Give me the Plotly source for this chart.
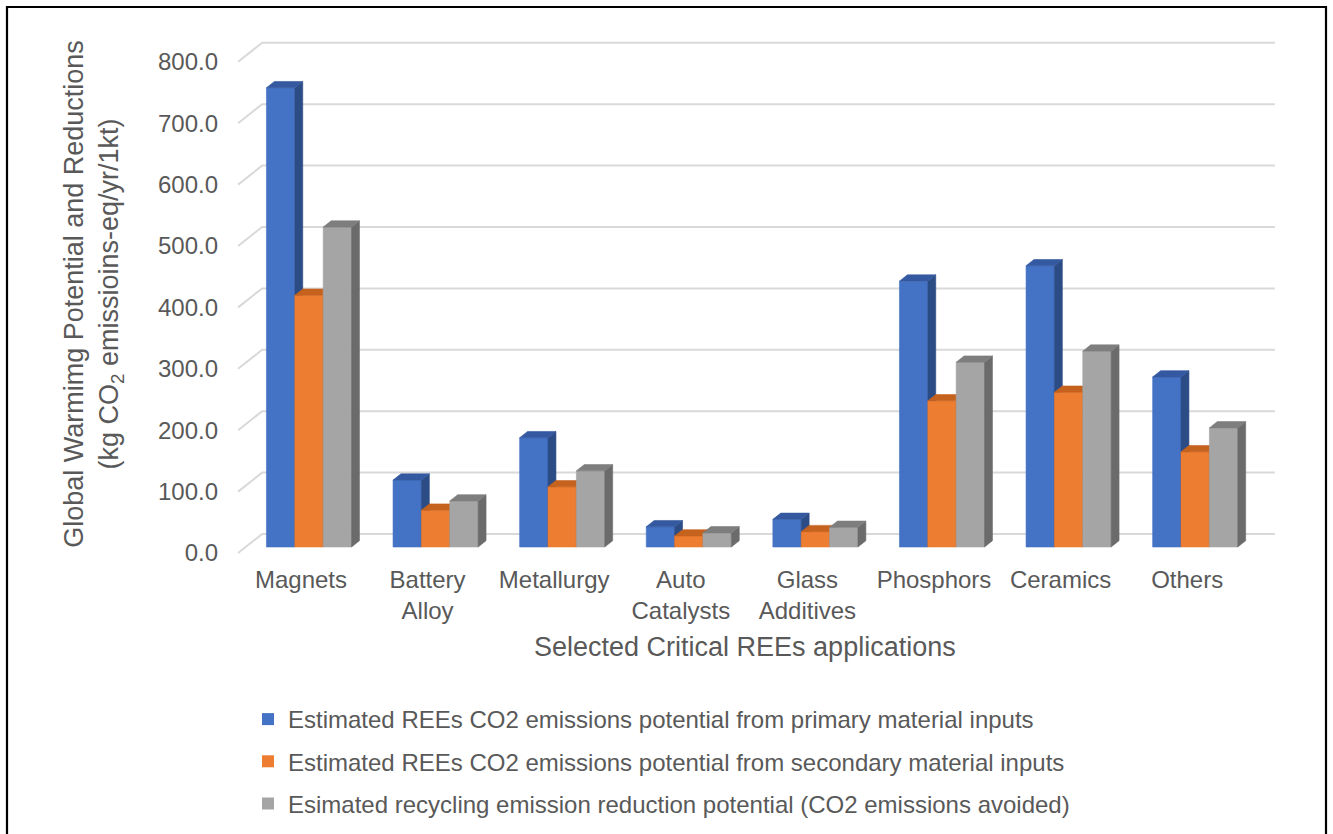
import plotly.graph_objects as go

# ---- data -------------------------------------------------------------
categories = ["Magnets", "Battery<br>Alloy", "Metallurgy", "Auto<br>Catalysts",
              "Glass<br>Additives", "Phosphors", "Ceramics", "Others"]
primary_inputs = [748, 109, 178, 33, 45, 433, 458, 277]
secondary_inputs = [410, 60, 98, 18, 25, 238, 252, 155]
emissions_avoided = [521, 75, 124, 23, 32, 301, 319, 194]
series_names = [
    "Estimated REEs CO2 emissions potential from primary material inputs",
    "Estimated REEs CO2 emissions potential from secondary material inputs",
    "Esimated recycling emission reduction potential (CO2 emissions avoided)",
]
y_ticks = [0, 100, 200, 300, 400, 500, 600, 700, 800]

# ---- styling ------------------------------------------------------------
FONT = "Liberation Sans, Arial, sans-serif"
TEXT = "#595959"
GRID = "#d9d9d9"
front_colors = ["#4472C4", "#ED7D31", "#A5A5A5"]
side_colors = ["#2C4C86", "#B3581B", "#6B6B6B"]
top_colors = ["#3459A0", "#C5621E", "#7E7E7E"]

# ---- page / projection geometry (pixels) --------------------------------
W, H = 1333, 834
PLOT_L, PLOT_R, PLOT_T, PLOT_B = 225, 1290, 30, 558
X_ORIGIN_PX, X_UNIT_PX = 309.0, 126.6     # first category centre, category pitch
Y_ZERO_PX, Y_UNIT_PX = 547.0, 0.614       # baseline of bar fronts, px per unit
DEPTH_DX_PX, DEPTH_DY_PX = 24.0, 19.0     # oblique offset of the back wall
D_FRONT, D_BAR = 0.316, 0.33              # bar front depth and bar thickness
D_BACK = D_FRONT + D_BAR
BAR_W = 0.224

DX = DEPTH_DX_PX / X_UNIT_PX
DY = DEPTH_DY_PX / Y_UNIT_PX
x_range = [(PLOT_L - X_ORIGIN_PX) / X_UNIT_PX, (PLOT_R - X_ORIGIN_PX) / X_UNIT_PX]
y_range = [(Y_ZERO_PX - PLOT_B) / Y_UNIT_PX, (Y_ZERO_PX - PLOT_T) / Y_UNIT_PX]
n_cat = len(categories)


def proj(xw, v, d):
    """Oblique projection of a point (x, value, depth) into axis coordinates."""
    return xw + (d - D_FRONT) * DX, v + (d - D_FRONT) * DY


def polys_to_xy(polys):
    xs, ys = [], []
    for poly in polys:
        for px, py in poly + [poly[0]]:
            xs.append(px)
            ys.append(py)
        xs.append(None)
        ys.append(None)
    return xs, ys


fig = go.Figure()

# ---- walls: side-wall diagonals + back-wall gridlines -------------------
gx, gy = [], []
x_left, x_right = -0.5, n_cat - 0.5
for t in y_ticks:
    for pt in (proj(x_left, t, 0.0), proj(x_left, t, 1.0), proj(x_right, t, 1.0)):
        gx.append(pt[0])
        gy.append(pt[1])
    gx.append(None)
    gy.append(None)
fig.add_trace(go.Scatter(x=gx, y=gy, mode="lines", line=dict(color=GRID, width=2),
                         hoverinfo="skip", showlegend=False))

# ---- 3D columns ----------------------------------------------------------
all_series = [primary_inputs, secondary_inputs, emissions_avoided]
offsets = [-BAR_W, 0.0, BAR_W]
for s, values in enumerate(all_series):
    fronts, sides, tops = [], [], []
    for i, v in enumerate(values):
        c = i + offsets[s]
        l, r = c - BAR_W / 2, c + BAR_W / 2
        fronts.append([proj(l, 0, D_FRONT), proj(r, 0, D_FRONT),
                       proj(r, v, D_FRONT), proj(l, v, D_FRONT)])
        sides.append([proj(r, 0, D_FRONT), proj(r, 0, D_BACK),
                      proj(r, v, D_BACK), proj(r, v, D_FRONT)])
        tops.append([proj(l, v, D_FRONT), proj(r, v, D_FRONT),
                     proj(r, v, D_BACK), proj(l, v, D_BACK)])
    for polys, col in ((fronts, front_colors[s]), (sides, side_colors[s]), (tops, top_colors[s])):
        px, py = polys_to_xy(polys)
        fig.add_trace(go.Scatter(x=px, y=py, mode="lines", fill="toself", fillcolor=col,
                                 line=dict(width=0.6, color=col), hoverinfo="skip",
                                 showlegend=False, legendgroup=f"s{s}"))
    # legend key
    fig.add_trace(go.Scatter(x=[None], y=[None], mode="markers", name=series_names[s],
                             marker=dict(symbol="square", size=12, color=front_colors[s]),
                             legendgroup=f"s{s}", showlegend=True))

# ---- helpers for page-level placement -----------------------------------
pw, ph = PLOT_R - PLOT_L, PLOT_B - PLOT_T
def paper_x(px):
    return (px - PLOT_L) / pw
def paper_y(py):
    return (PLOT_B - py) / ph

# frame around the whole chart
fig.add_shape(type="rect", xref="paper", yref="paper",
              x0=paper_x(7), x1=paper_x(1326), y0=paper_y(850), y1=paper_y(7),
              line=dict(color="black", width=2.2), fillcolor="rgba(0,0,0,0)")

# category-axis title
fig.add_annotation(text="Selected Critical REEs applications", xref="paper", yref="paper",
                   x=paper_x(745), y=paper_y(647), xanchor="center", yanchor="middle",
                   showarrow=False, font=dict(size=27, color=TEXT, family=FONT))

fig.update_layout(
    width=W, height=H,
    margin=dict(l=PLOT_L, r=W - PLOT_R, t=PLOT_T, b=H - PLOT_B, autoexpand=False),
    paper_bgcolor="white", plot_bgcolor="white",
    font=dict(family=FONT, color=TEXT, size=24),
    xaxis=dict(range=x_range, tickmode="array", tickvals=list(range(n_cat)),
               ticktext=categories, showgrid=False, zeroline=False, showline=False,
               ticks="", ticklabelshift=-8, ticklabelstandoff=5, automargin=False,
               tickfont=dict(size=24)),
    yaxis=dict(range=y_range, tickmode="array", tickvals=y_ticks,
               tickformat=".1f", showgrid=False, zeroline=False, showline=False,
               ticks="", ticklabelshift=6, ticklabelstandoff=6, automargin=False,
               tickfont=dict(size=24),
               title=dict(text="Global Warmimg Potential and Reductions<br>"
                               "(kg CO<sub>2</sub> emissioins-eq/yr/1kt)",
                          font=dict(size=27), standoff=31)),
    legend=dict(x=paper_x(248), y=paper_y(697), xanchor="left", yanchor="top",
                font=dict(size=24), traceorder="grouped", tracegroupgap=8,
                bgcolor="rgba(0,0,0,0)"),
    showlegend=True,
)

fig.write_html("out.html")
